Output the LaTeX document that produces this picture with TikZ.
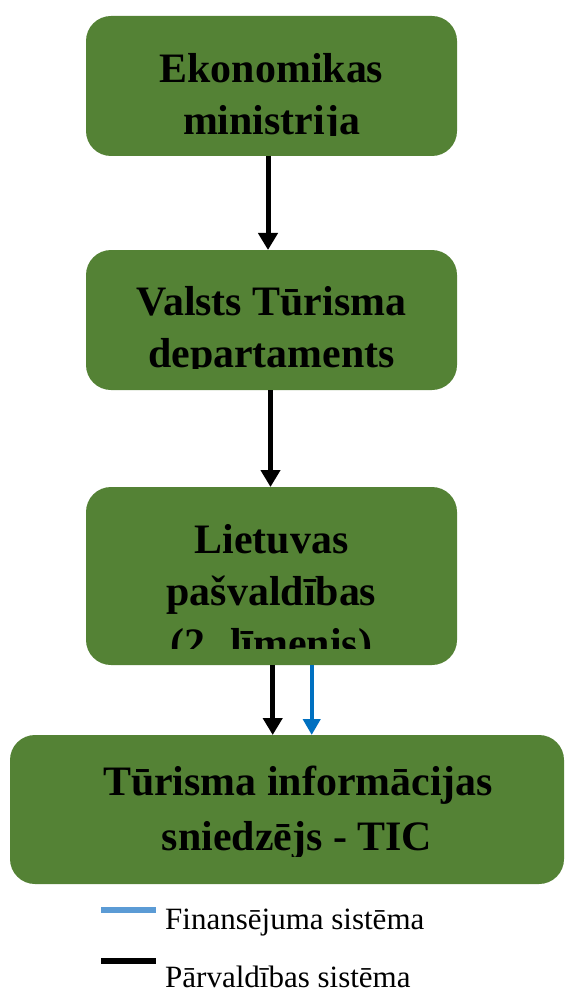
\documentclass[tikz,border=0pt]{standalone}
\usepackage{fontspec}
\setmainfont{Liberation Serif}
\usetikzlibrary{arrows.meta}
\definecolor{boxgreen}{RGB}{84,130,53}
\definecolor{finblue}{RGB}{0,112,192}
\definecolor{legblue}{RGB}{91,155,213}
\tikzset{
  orgbox/.style={fill=boxgreen, draw=none, rounded corners=25pt, inner sep=0pt, outer sep=0pt},
  boxtext/.style={font=\fontsize{41.9}{50}\selectfont\bfseries, anchor=base, inner sep=0pt},
  flow/.style={line width=5pt, -{Triangle[width=19pt,length=17pt]}},
  finflow/.style={finblue, line width=4pt, -{Triangle[width=17pt,length=16pt]}},
  legtext/.style={font=\fontsize{31}{36}\selectfont, anchor=base west, inner sep=0pt},
}
\begin{document}
\begin{tikzpicture}[x=1pt,y=-1pt]
\useasboundingbox (0,0) rectangle (565,992);

% boxes
\node[orgbox, minimum width=371pt, minimum height=140pt] (b1) at (271.5,86) {};
\node[orgbox, minimum width=371pt, minimum height=140pt] (b2) at (271.5,320) {};
\node[orgbox, minimum width=371pt, minimum height=178pt] (b3) at (271.5,576) {};
\node[orgbox, minimum width=554pt, minimum height=149pt] (b4) at (287,809.5) {};

% texts (clipped as in the reference)
\begin{scope}
\clip (86,16) rectangle (457,136);
\node[boxtext] (t1a) at (271.5,83) {Ekonomikas};
\node[boxtext] (t1b) at (271.5,135) {ministrija};
\end{scope}
\begin{scope}
\clip (86,250) rectangle (457,368);
\node[boxtext] (t2a) at (271.5,315) {Valsts Tūrisma};
\node[boxtext] (t2b) at (271.5,367) {departaments};
\end{scope}
\begin{scope}
\clip (86,487) rectangle (457,648);
\node[boxtext] (t3a) at (271.5,553) {Lietuvas};
\node[boxtext] (t3b) at (271.5,605) {pašvaldības};
\node[boxtext] (t3c) at (271.5,657) {(2. līmenis)};
\end{scope}
\begin{scope}
\clip (10,735) rectangle (564,856);
\node[boxtext] (t4a) at (298,795) {Tūrisma informācijas};
\node[boxtext] (t4b) at (297,850) {sniedzējs - TIC};
\end{scope}

% connectors
\coordinate (ax1) at (268,0);
\coordinate (ax2) at (270.5,0);
\coordinate (ax3) at (272.7,0);
\coordinate (ax4) at (311.7,0);
\draw[flow] (b1.south -| ax1) -- (b2.north -| ax1);
\draw[flow] (b2.south -| ax2) -- (b3.north -| ax2);
\draw[flow] (b3.south -| ax3) -- (b4.north -| ax3);
\draw[finflow] (b3.south -| ax4) -- (b4.north -| ax4);

% legend
\coordinate (lb1) at (101,910);
\coordinate (lb2) at (156,910);
\coordinate (lk1) at (101,961);
\coordinate (lk2) at (156,961);
\draw[legblue, line width=6pt] (lb1) -- (lb2);
\draw[black, line width=6pt] (lk1) -- (lk2);
\node[legtext] (l1) at (165,929) {Finansējuma sistēma};
\node[legtext] (l2) at (165,987) {Pārvaldības sistēma};
\end{tikzpicture}
\end{document}
